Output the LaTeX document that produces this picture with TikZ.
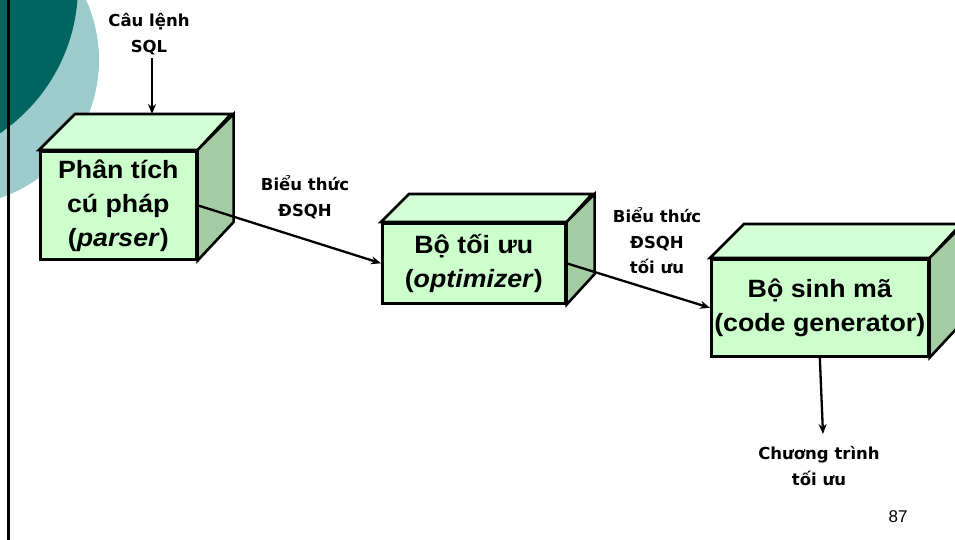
\documentclass[tikz,border=0pt]{standalone}
\usepackage{fontspec}
\setmainfont{Liberation Sans}
\newfontfamily\comic{DejaVu Sans}
\usetikzlibrary{arrows.meta}
\definecolor{frontgreen}{HTML}{CCFFCC}
\definecolor{topgreen}{HTML}{D4FFD4}
\definecolor{sidegreen}{HTML}{A3CCA3}
\definecolor{darkteal}{HTML}{006461}
\definecolor{lightteal}{HTML}{9CCBCB}
\tikzset{
  front/.style={draw=black, line width=2.6pt, fill=frontgreen, align=center, inner sep=0pt, anchor=north west,
    font=\fontsize{25}{34}\selectfont\bfseries\addfontfeature{FakeStretch=1.07}},
  topface/.style={draw=black, line width=2.6pt, fill=topgreen, line join=miter},
  sideface/.style={draw=black, line width=2.6pt, fill=sidegreen, line join=miter},
  lbl/.style={align=center, inner sep=0pt, font=\comic\fontsize{16.5}{25.5}\selectfont\bfseries},
  arr/.style={line width=2.3pt, -{Stealth[length=10pt,width=8pt]}}
}
\begin{document}
\begin{tikzpicture}[x=1pt,y=-1pt]
\useasboundingbox (0,0) rectangle (955,540);
\begin{scope}
\clip (0,0) rectangle (955,540);
% background decoration
\fill[lightteal] (-46.6,60) circle[radius=145.6];
\fill[darkteal] (-100,-14) circle[radius=178];
\draw[line width=2.8pt] (8.5,0) -- (8.5,540);
% box 1: parser
\node[front, minimum width=156pt, minimum height=108pt] (p) at (39,150)
  {Phân tích\\cú pháp\\(\textit{parser})};
\draw[topface] (p.north west) -- ++(36,-36) -- ++(156,0) -- (p.north east) -- cycle;
\draw[sideface] (p.north east) -- ++(36,-36) -- ++(0,108) -- (p.south east) -- cycle;
% box 2: optimizer
\node[front, minimum width=183pt, minimum height=80pt] (o) at (381,222)
  {Bộ tối ưu\\(\textit{optimizer})};
\draw[topface] (o.north west) -- ++(28,-28) -- ++(183,0) -- (o.north east) -- cycle;
\draw[sideface] (o.north east) -- ++(28,-28) -- ++(0,80) -- (o.south east) -- cycle;
% box 3: code generator
\node[front, minimum width=217pt, minimum height=97pt] (g) at (710,258)
  {Bộ sinh mã\\(code generator)};
\draw[topface] (g.north west) -- ++(34,-34) -- ++(217,0) -- (g.north east) -- cycle;
\draw[sideface] (g.north east) -- ++(34,-34) -- ++(0,97) -- (g.south east) -- cycle;
% labels
\node[lbl] (sql) at (149,34) {Câu lệnh\\SQL};
\node[lbl] (e1) at (305,197) {Biểu thức\\ĐSQH};
\node[lbl] (e2) at (657,241) {Biểu thức\\ĐSQH\\tối ưu};
\node[lbl] (out) at (819,466) {Chương trình\\tối ưu};
\node[font=\fontsize{17}{17}\selectfont] (num) at (898,517) {87};
% connectors
\coordinate (ptop) at (152,114);
\coordinate (outtip) at (823,434);
\draw[arr] (152,58) -- (ptop);
\draw[arr] (p.east) -- (o.west);
\draw[arr] (o.east) -- (g.west);
\draw[arr] (g.south) -- (outtip);
\end{scope}
\end{tikzpicture}
\end{document}
